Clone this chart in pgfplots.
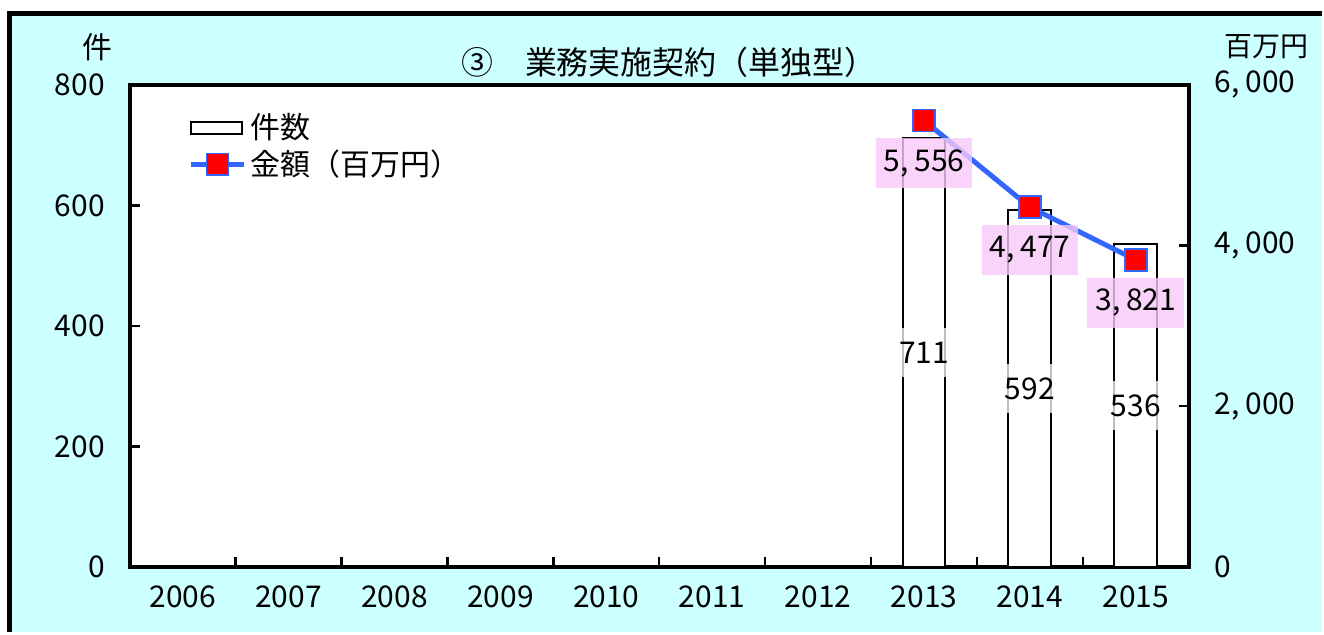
\documentclass[border=0pt]{standalone}
\usepackage{fontspec}
\setmainfont{Noto Sans CJK JP}
\usepackage{pgfplots}
\pgfplotsset{compat=1.18}
\definecolor{bgcyan}{RGB}{204,255,255}
\definecolor{lineblue}{RGB}{51,102,255}
\definecolor{labpink}{RGB}{248,200,248}
\newcommand\fs{\fontsize{15pt}{18pt}\selectfont}
\pgfplotsset{
  mylinelegend/.style={legend image code/.code={\draw[mark repeat=2, mark phase=2, ##1] plot coordinates {(0pt,0pt) (13.5pt,0pt) (27pt,0pt)};}},
  mybarlegend/.style={legend image code/.code={\draw[black,line width=1pt,fill=white] (0pt,-3pt) rectangle (26pt,3pt);}},
}
\begin{document}
\begin{tikzpicture}[font=\fs, x=1pt, y=1pt]
\fill[white] (0,0) rectangle (662,316.5);
\fill[bgcyan] (5,0) rectangle (662,309.5);
\draw[line width=2.5pt, line join=miter] (5,0) -- (5,309.5) -- (662,309.5);
\node at (49,293) {件};
\node at (634.5,293) {\fontsize{14pt}{16pt}\selectfont 百万円};
\node at (335,285.5) {\fontsize{16pt}{18pt}\selectfont ③\hspace{1em}業務実施契約（単独型）};

\begin{axis}[
  at={(65pt,32.5pt)}, anchor=south west, scale only axis,
  width=530.5pt, height=241.5pt,
  xmin=-0.5, xmax=9.5, ymin=0, ymax=800,
  axis background/.style={fill=white},
  axis line style={line width=2.25pt},
  tick align=inside,
  xtick={0,1,2,3,4,5,6,7,8,9},
  xticklabels={2006,2007,2008,2009,2010,2011,2012,2013,2014,2015},
  minor xtick={0.5,1.5,2.5,3.5,4.5,5.5,6.5,7.5,8.5},
  ytick={0,200,400,600,800}, yticklabels={0,200,400,600,800},
  ytick pos=left, xtick pos=bottom,
  major tick length=5pt, minor tick length=5pt,
  tick style={black, line width=1.2pt},
  major x tick style={draw=none},
  ticklabel style={font=\fs},
  xticklabel style={yshift=-6pt},
  yticklabel style={xshift=-9pt},
]
\addplot[ybar, bar width=21.5pt, bar shift=0pt, fill=white, draw=black, line width=1pt,
  nodes near coords, point meta=explicit symbolic,
  visualization depends on=rawy \as \rawy,
  nodes near coords style={anchor=center, shift={(axis direction cs:0,-\rawy/2)},
    fill=white, fill opacity=0.75, text opacity=1, inner xsep=1pt, inner ysep=0pt,
    minimum height=24.5pt, font=\fs, text=black}]
coordinates {(7,711) [711] (8,592) [592] (9,536) [536]};
\end{axis}

\begin{axis}[
  at={(65pt,32.5pt)}, anchor=south west, scale only axis,
  width=530.5pt, height=241.5pt,
  xmin=-0.5, xmax=9.5, ymin=0, ymax=6000,
  hide x axis, axis y line*=right,
  axis line style={line width=2.25pt},
  tick align=inside,
  ytick={0,2000,4000,6000},
  yticklabels={0,{2,\kern3pt 000},{4,\kern3pt 000},{6,\kern3pt 000}},
  major tick length=5pt,
  tick style={black, line width=1.2pt},
  ticklabel style={font=\fs},
  yticklabel style={xshift=9.5pt},
  legend style={at={(0.0547,0.949)}, anchor=north west, draw=none, fill=none,
    inner sep=0pt, font=\fs, row sep=0pt, nodes={inner sep=2pt}},
  legend cell align=left,
]
\addlegendimage{black, mybarlegend}
\addlegendentry{件数}
\addplot[lineblue, line width=2.5pt, mark=square*, mark size=5.5pt,
  mark options={fill=red, draw=lineblue, line width=0.8pt, solid},
  mylinelegend,
  nodes near coords, point meta=explicit symbolic,
  nodes near coords style={anchor=north, yshift=-8.5pt, fill=labpink, fill opacity=0.8,
    text opacity=1, minimum width=48.5pt, minimum height=25pt, inner sep=1pt,
    font=\fs, text=black}]
coordinates {(7,5556) [5,\kern3pt 556] (8,4477) [4,\kern3pt 477] (9,3821) [3,\kern3pt 821]};
\addlegendentry{金額（百万円）}
\end{axis}
\end{tikzpicture}
\end{document}
